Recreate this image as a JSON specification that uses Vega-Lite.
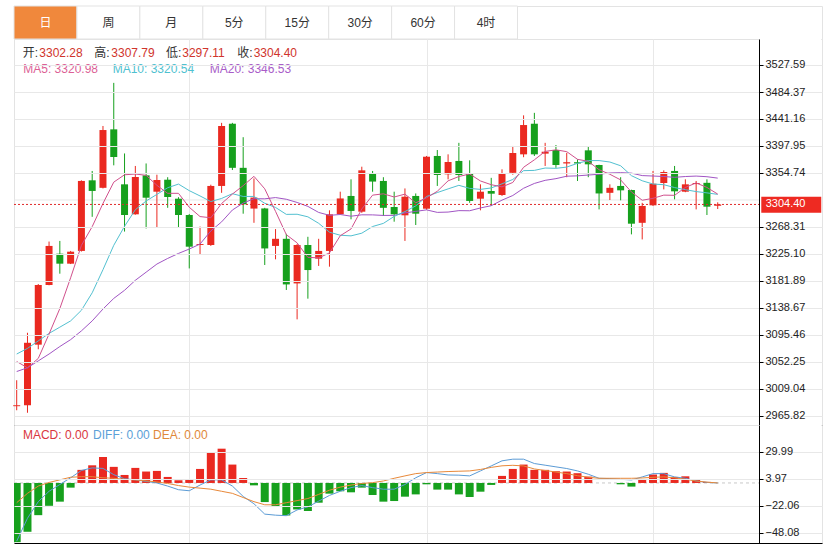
{
 "$schema": "https://vega.github.io/schema/vega-lite/v6.json",
 "padding": {"left": 12, "top": 5, "right": 0, "bottom": 0},
 "autosize": {"type": "pad"},
 "background": "#ffffff",
 "spacing": 0,
 "bounds": "flush",
 "config": {"view": {"stroke": "#e3e3e3", "strokeWidth": 1}, "font": "'Liberation Sans', 'Noto Sans CJK SC'"},
 "datasets": {
  "k": [
   {"i":0,"o":2981.5,"h":3023,"l":2975,"c":2983,"ma5":3053,"ma10":3065,"ma20":3037},
   {"i":1,"o":2983,"h":3099,"l":2971,"c":3083,"ma5":3043,"ma10":3074,"ma20":3043},
   {"i":2,"o":3080,"h":3177,"l":3072.6,"c":3175.5,"ma5":3058,"ma10":3086,"ma20":3054},
   {"i":3,"o":3175.5,"h":3245,"l":3175,"c":3238,"ma5":3097,"ma10":3098,"ma20":3065},
   {"i":4,"o":3225.6,"h":3246,"l":3193.6,"c":3209.6,"ma5":3137.8,"ma10":3108,"ma20":3077},
   {"i":5,"o":3209.6,"h":3230,"l":3209,"c":3228.8,"ma5":3187.0,"ma10":3118,"ma20":3088},
   {"i":6,"o":3230,"h":3343,"l":3229,"c":3342,"ma5":3238.8,"ma10":3135,"ma20":3102},
   {"i":7,"o":3343,"h":3358,"l":3284.6,"c":3326,"ma5":3268.9,"ma10":3163,"ma20":3118},
   {"i":8,"o":3331,"h":3430,"l":3330,"c":3423.5,"ma5":3306.0,"ma10":3200,"ma20":3137},
   {"i":9,"o":3424.6,"h":3499,"l":3367,"c":3380.3,"ma5":3340.1,"ma10":3239.0,"ma20":3154},
   {"i":10,"o":3336.6,"h":3386,"l":3261,"c":3287.5,"ma5":3351.9,"ma10":3269.4,"ma20":3167},
   {"i":11,"o":3288.6,"h":3366,"l":3288,"c":3348.3,"ma5":3353.1,"ma10":3296.0,"ma20":3183},
   {"i":12,"o":3351,"h":3370,"l":3266,"c":3315.2,"ma5":3351.0,"ma10":3309.9,"ma20":3196},
   {"i":13,"o":3324.8,"h":3352,"l":3268,"c":3343.5,"ma5":3335.0,"ma10":3320.5,"ma20":3209},
   {"i":14,"o":3344,"h":3348,"l":3299,"c":3316.3,"ma5":3322.2,"ma10":3331.1,"ma20":3218},
   {"i":15,"o":3313.6,"h":3316,"l":3267,"c":3287.5,"ma5":3322.2,"ma10":3337.0,"ma20":3226},
   {"i":16,"o":3287.5,"h":3289,"l":3202,"c":3236.8,"ma5":3299.9,"ma10":3326.5,"ma20":3233},
   {"i":17,"o":3239.5,"h":3269,"l":3223.5,"c":3241,"ma5":3285.0,"ma10":3318.0,"ma20":3241},
   {"i":18,"o":3239.5,"h":3336,"l":3238,"c":3334,"ma5":3283.1,"ma10":3309.0,"ma20":3262},
   {"i":19,"o":3334,"h":3435,"l":3323,"c":3430,"ma5":3305.9,"ma10":3314.0,"ma20":3276.5},
   {"i":20,"o":3433.6,"h":3435,"l":3359.5,"c":3363,"ma5":3321.0,"ma10":3321.6,"ma20":3295.5},
   {"i":21,"o":3363,"h":3412,"l":3289.6,"c":3304.6,"ma5":3334.5,"ma10":3317.2,"ma20":3306.6},
   {"i":22,"o":3297.8,"h":3346,"l":3275,"c":3315.4,"ma5":3349.4,"ma10":3317.2,"ma20":3313.6},
   {"i":23,"o":3298,"h":3299,"l":3207.5,"c":3234,"ma5":3329.4,"ma10":3306.3,"ma20":3313.4},
   {"i":24,"o":3238,"h":3265,"l":3216.6,"c":3249.4,"ma5":3293.3,"ma10":3299.6,"ma20":3315.4},
   {"i":25,"o":3249.4,"h":3257.4,"l":3167.5,"c":3176.4,"ma5":3256.0,"ma10":3288.5,"ma20":3312.7},
   {"i":26,"o":3178,"h":3241,"l":3120.5,"c":3239.5,"ma5":3242.9,"ma10":3288.7,"ma20":3307.6},
   {"i":27,"o":3239.5,"h":3252.6,"l":3153.6,"c":3199.4,"ma5":3219.7,"ma10":3284.6,"ma20":3301.3},
   {"i":28,"o":3217.6,"h":3249.4,"l":3206,"c":3230,"ma5":3218.9,"ma10":3274.2,"ma20":3291.6},
   {"i":29,"o":3230,"h":3295,"l":3204.8,"c":3288.6,"ma5":3226.8,"ma10":3260.0,"ma20":3287.0},
   {"i":30,"o":3288.6,"h":3324.8,"l":3288,"c":3314,"ma5":3254.3,"ma10":3255.1,"ma20":3288.3},
   {"i":31,"o":3318,"h":3344.6,"l":3280.6,"c":3294,"ma5":3265.2,"ma10":3254.1,"ma20":3285.6},
   {"i":32,"o":3292.8,"h":3364.8,"l":3291,"c":3359,"ma5":3297.1,"ma10":3258.4,"ma20":3287.8},
   {"i":33,"o":3353.6,"h":3358,"l":3324.8,"c":3341,"ma5":3319.3,"ma10":3269.1,"ma20":3287.7},
   {"i":34,"o":3342,"h":3348,"l":3286,"c":3299,"ma5":3321.4,"ma10":3274.1,"ma20":3286.8},
   {"i":35,"o":3300.3,"h":3324.8,"l":3276.8,"c":3288.6,"ma5":3316.3,"ma10":3285.3,"ma20":3286.9},
   {"i":36,"o":3287,"h":3330,"l":3246,"c":3316.8,"ma5":3320.9,"ma10":3293.0,"ma20":3290.9},
   {"i":37,"o":3318,"h":3322,"l":3271.5,"c":3289.6,"ma5":3307.0,"ma10":3302.1,"ma20":3293.3},
   {"i":38,"o":3297.6,"h":3382,"l":3296,"c":3380.8,"ma5":3315.0,"ma10":3317.1,"ma20":3295.7},
   {"i":39,"o":3382,"h":3391.5,"l":3334,"c":3351.5,"ma5":3325.5,"ma10":3323.4,"ma20":3291.7},
   {"i":40,"o":3352.6,"h":3384.6,"l":3344.6,"c":3372.3,"ma5":3342.2,"ma10":3329.3,"ma20":3292.2},
   {"i":41,"o":3374,"h":3403,"l":3342,"c":3351.5,"ma5":3349.1,"ma10":3335.0,"ma20":3294.5},
   {"i":42,"o":3354,"h":3375,"l":3307,"c":3310,"ma5":3353.2,"ma10":3330.1,"ma20":3294.3},
   {"i":43,"o":3313.6,"h":3336.6,"l":3295,"c":3324.8,"ma5":3342.0,"ma10":3328.5,"ma20":3298.8},
   {"i":44,"o":3325.9,"h":3347,"l":3302,"c":3321.6,"ma5":3336.0,"ma10":3330.8,"ma20":3302.4},
   {"i":45,"o":3319.5,"h":3360.6,"l":3318,"c":3354.7,"ma5":3332.5,"ma10":3337.4,"ma20":3311.3},
   {"i":46,"o":3355,"h":3398,"l":3352,"c":3386.7,"ma5":3339.6,"ma10":3344.4,"ma20":3318.7},
   {"i":47,"o":3384.6,"h":3447,"l":3380,"c":3431.5,"ma5":3363.9,"ma10":3358.5,"ma20":3330.3},
   {"i":48,"o":3433.6,"h":3451,"l":3382,"c":3384.6,"ma5":3375.8,"ma10":3358.9,"ma20":3338.0},
   {"i":49,"o":3385.7,"h":3403,"l":3366,"c":3388.8,"ma5":3389.3,"ma10":3362.7,"ma20":3343.0},
   {"i":50,"o":3391.5,"h":3399.5,"l":3363,"c":3367.5,"ma5":3391.8,"ma10":3362.2,"ma20":3345.7},
   {"i":51,"o":3370,"h":3387,"l":3348,"c":3372,"ma5":3388.9,"ma10":3364.2,"ma20":3349.6},
   {"i":52,"o":3372,"h":3376.6,"l":3342,"c":3370,"ma5":3376.6,"ma10":3370.2,"ma20":3350.2},
   {"i":53,"o":3391,"h":3397,"l":3348,"c":3368.6,"ma5":3373.4,"ma10":3374.6,"ma20":3351.5},
   {"i":54,"o":3367.5,"h":3368,"l":3296.5,"c":3322,"ma5":3360.0,"ma10":3374.6,"ma20":3352.7},
   {"i":55,"o":3323,"h":3336.6,"l":3311.5,"c":3331,"ma5":3352.7,"ma10":3372.3,"ma20":3354.8},
   {"i":56,"o":3334,"h":3348,"l":3311,"c":3327,"ma5":3343.7,"ma10":3366.3,"ma20":3355.3},
   {"i":57,"o":3327.5,"h":3328,"l":3256.5,"c":3273.6,"ma5":3324.4,"ma10":3350.5,"ma20":3354.5},
   {"i":58,"o":3275,"h":3307,"l":3248.4,"c":3302,"ma5":3311.1,"ma10":3342.3,"ma20":3350.6},
   {"i":59,"o":3303,"h":3358,"l":3302,"c":3337.6,"ma5":3314.2,"ma10":3337.1,"ma20":3349.9},
   {"i":60,"o":3338.7,"h":3359,"l":3328.5,"c":3356.3,"ma5":3319.3,"ma10":3336.0,"ma20":3349.1},
   {"i":61,"o":3358,"h":3366,"l":3312.6,"c":3325.4,"ma5":3319.0,"ma10":3331.4,"ma20":3347.8},
   {"i":62,"o":3324.8,"h":3344.6,"l":3324,"c":3336.6,"ma5":3331.6,"ma10":3328.0,"ma20":3349.1},
   {"i":63,"o":3337,"h":3342,"l":3296.5,"c":3338.7,"ma5":3338.9,"ma10":3325.0,"ma20":3349.8},
   {"i":64,"o":3339,"h":3344.6,"l":3287.5,"c":3300.8,"ma5":3331.6,"ma10":3322.9,"ma20":3348.8},
   {"i":65,"o":3302.28,"h":3307.79,"l":3297.11,"c":3304.4,"ma5":3320.98,"ma10":3320.54,"ma20":3346.53}
  ],
  "m": [
   {"i":0,"macd":-57,"diff":-56,"dea":-19},
   {"i":1,"macd":-47,"diff":-34,"dea":-10},
   {"i":2,"macd":-31,"diff":-18,"dea":-3},
   {"i":3,"macd":-22,"diff":-8,"dea":0.5},
   {"i":4,"macd":-18,"diff":-1.5,"dea":3},
   {"i":5,"macd":-4.5,"diff":5,"dea":5.5},
   {"i":6,"macd":12.6,"diff":12,"dea":6},
   {"i":7,"macd":17,"diff":14.5,"dea":6},
   {"i":8,"macd":25,"diff":14,"dea":5},
   {"i":9,"macd":15.5,"diff":8,"dea":4.5},
   {"i":10,"macd":7.7,"diff":4,"dea":3.5},
   {"i":11,"macd":14.5,"diff":3,"dea":3},
   {"i":12,"macd":11,"diff":1.5,"dea":2},
   {"i":13,"macd":11.6,"diff":0,"dea":1},
   {"i":14,"macd":5.8,"diff":-3,"dea":-0.5},
   {"i":15,"macd":2.6,"diff":-6.5,"dea":-2.5},
   {"i":16,"macd":2.9,"diff":-7.5,"dea":-4},
   {"i":17,"macd":13.5,"diff":-2,"dea":-5},
   {"i":18,"macd":29.3,"diff":3,"dea":-6},
   {"i":19,"macd":33,"diff":3,"dea":-8},
   {"i":20,"macd":17.7,"diff":-3,"dea":-10},
   {"i":21,"macd":4.8,"diff":-13,"dea":-14},
   {"i":22,"macd":-2.3,"diff":-20,"dea":-18},
   {"i":23,"macd":-18.4,"diff":-30,"dea":-21},
   {"i":24,"macd":-22.6,"diff":-31,"dea":-21},
   {"i":25,"macd":-31.3,"diff":-31.5,"dea":-19},
   {"i":26,"macd":-25.5,"diff":-26,"dea":-17},
   {"i":27,"macd":-27,"diff":-23,"dea":-15},
   {"i":28,"macd":-19,"diff":-17.5,"dea":-11},
   {"i":29,"macd":-10.3,"diff":-12,"dea":-7},
   {"i":30,"macd":-8,"diff":-8,"dea":-4},
   {"i":31,"macd":-9,"diff":-4.5,"dea":-2},
   {"i":32,"macd":-4.5,"diff":-2.5,"dea":-0.5},
   {"i":33,"macd":-11.6,"diff":-4.5,"dea":0.3},
   {"i":34,"macd":-18,"diff":-6,"dea":1.9},
   {"i":35,"macd":-17.4,"diff":-6,"dea":4.5},
   {"i":36,"macd":-13.2,"diff":-1.5,"dea":6.8},
   {"i":37,"macd":-11,"diff":5,"dea":9},
   {"i":38,"macd":-1.3,"diff":10,"dea":10},
   {"i":39,"macd":-6.4,"diff":9,"dea":10.5},
   {"i":40,"macd":-6.4,"diff":7.7,"dea":11},
   {"i":41,"macd":-11,"diff":7.5,"dea":11.3},
   {"i":42,"macd":-13.5,"diff":6.8,"dea":11.6},
   {"i":43,"macd":-8.4,"diff":11.6,"dea":13},
   {"i":44,"macd":-1.9,"diff":16.4,"dea":15},
   {"i":45,"macd":6.8,"diff":21.3,"dea":16.5},
   {"i":46,"macd":13.5,"diff":22.9,"dea":17},
   {"i":47,"macd":17.7,"diff":22.9,"dea":16.4},
   {"i":48,"macd":12.6,"diff":18.7,"dea":13.5},
   {"i":49,"macd":12.6,"diff":17.1,"dea":12},
   {"i":50,"macd":11.3,"diff":15.5,"dea":10.5},
   {"i":51,"macd":11,"diff":13.9,"dea":9},
   {"i":52,"macd":9.4,"diff":11.6,"dea":7},
   {"i":53,"macd":6.1,"diff":8.4,"dea":5.5},
   {"i":54,"macd":0,"diff":4.5,"dea":4.5},
   {"i":55,"macd":0,"diff":4.2,"dea":4.5},
   {"i":56,"macd":-1.3,"diff":3.5,"dea":4.5},
   {"i":57,"macd":-3.5,"diff":2.9,"dea":4.5},
   {"i":58,"macd":2.9,"diff":5.8,"dea":4.8},
   {"i":59,"macd":8.1,"diff":9,"dea":5.5},
   {"i":60,"macd":9.7,"diff":9,"dea":5.8},
   {"i":61,"macd":5.8,"diff":5.8,"dea":5},
   {"i":62,"macd":6.4,"diff":4.5,"dea":3.5},
   {"i":63,"macd":3.5,"diff":1.9,"dea":1.9},
   {"i":64,"macd":1,"diff":0.5,"dea":0.8},
   {"i":65,"macd":0,"diff":0,"dea":0}
  ]
 },
 "vconcat": [
  {
   "width": 808, "height": 33,
   "data": {"values": [{"tab":"日"},{"tab":"周"},{"tab":"月"},{"tab":"5分"},{"tab":"15分"},{"tab":"30分"},{"tab":"60分"},{"tab":"4时"}]},
   "encoding": {"x": {"field": "tab", "type": "nominal", "sort": null, "axis": null, "scale": {"range": [0, 503.5], "paddingInner": 0, "paddingOuter": 0}}},
   "layer": [
    {"mark": {"type": "rect", "stroke": "#e3e3e3", "strokeWidth": 1},
     "encoding": {"fill": {"condition": {"test": "datum.tab === '日'", "value": "#f0883c"}, "value": "#ffffff"}}},
    {"mark": {"type": "text", "fontSize": 12},
     "encoding": {"text": {"field": "tab"}, "color": {"condition": {"test": "datum.tab === '日'", "value": "#ffffff"}, "value": "#333333"}}}
   ]
  },
  {
   "width": 808, "height": 386,
   "data": {"name": "k"},
   "layer": [
    {"data": {"values": [{}]}, "mark": {"type": "rect", "fill": "#ffffff"},
     "encoding": {"x": {"datum": 68.88, "type": "quantitative"}, "x2": {"datum": 74.6}, "y": {"datum": 2951.5, "type": "quantitative"}, "y2": {"datum": 3569}}},
    {"data": {"values": [{}]}, "mark": {"type": "rule", "color": "#e8e8e8", "strokeWidth": 1},
     "encoding": {"x": {"datum": -0.25, "type": "quantitative"}, "x2": {"datum": 68.85}, "y": {"datum": 3311.53, "type": "quantitative"}}},
    {"mark": {"type": "rule", "strokeWidth": 1},
     "encoding": {
      "x": {"field": "i", "type": "quantitative", "scale": {"domain": [-0.25, 74.67], "nice": false, "zero": false, "padding": 0},
            "axis": {"orient": "bottom", "values": [16, 38, 59], "tickCount": 30, "grid": true, "gridColor": "#e8e8e8", "ticks": false, "labels": false, "domain": true, "domainColor": "#000000", "title": null}},
      "y": {"field": "l", "type": "quantitative", "scale": {"domain": [2951.4, 3569.2], "nice": false, "zero": false},
            "axis": {"orient": "right", "offset": -63, "values": [2965.82, 3009.04, 3052.25, 3095.46, 3138.67, 3181.89, 3225.10, 3268.31, 3354.74, 3397.95, 3441.16, 3484.37, 3527.59], "tickCount": 30, "format": ".2f", "labelOverlap": false, "labelFlush": false, "labelBound": false, "grid": true, "gridColor": "#e8e8e8", "domainColor": "#000000", "tickColor": "#000000", "tickSize": 4, "labelPadding": 2, "labelFont": "Liberation Sans", "labelFontSize": 11, "labelColor": "#222222", "title": null, "zindex": 1}},
      "y2": {"field": "h"},
      "color": {"condition": {"test": "datum.c >= datum.o", "value": "#ea2920"}, "value": "#16a01d"}
     }},
    {"mark": {"type": "bar", "size": 7},
     "encoding": {
      "x": {"field": "i", "type": "quantitative"},
      "y": {"field": "o", "type": "quantitative"},
      "y2": {"field": "c"},
      "color": {"condition": {"test": "datum.c >= datum.o", "value": "#ea2920"}, "value": "#16a01d"}
     }},
    {"mark": {"type": "line", "color": "#a155c4", "strokeWidth": 1},
     "encoding": {"x": {"field": "i", "type": "quantitative"}, "y": {"field": "ma20", "type": "quantitative"}}},
    {"mark": {"type": "line", "color": "#52c0d0", "strokeWidth": 1},
     "encoding": {"x": {"field": "i", "type": "quantitative"}, "y": {"field": "ma10", "type": "quantitative"}}},
    {"mark": {"type": "line", "color": "#d0508c", "strokeWidth": 1},
     "encoding": {"x": {"field": "i", "type": "quantitative"}, "y": {"field": "ma5", "type": "quantitative"}}},
    {"data": {"values": [{}]}, "mark": {"type": "rule", "color": "#e02a2a", "strokeWidth": 1, "strokeDash": [2, 2]},
     "encoding": {"x": {"datum": -0.25, "type": "quantitative"}, "x2": {"datum": 68.85}, "y": {"datum": 3304.4, "type": "quantitative"}}},
    {"data": {"values": [{}]}, "mark": {"type": "rect", "fill": "#ee2a22"},
     "encoding": {"x": {"datum": 69.04, "type": "quantitative"}, "x2": {"datum": 74.6}, "y": {"datum": 3291.2, "type": "quantitative"}, "y2": {"datum": 3316.8}}},
    {"data": {"values": [{}]}, "mark": {"type": "text", "text": "3304.40", "color": "#ffffff", "align": "left", "baseline": "middle", "font": "Liberation Sans", "fontSize": 11},
     "encoding": {"x": {"datum": 69.45, "type": "quantitative"}, "y": {"datum": 3304.4, "type": "quantitative"}}},
    {"data": {"values": [{}]}, "mark": {"type": "text", "text": "开:", "color": "#333333", "align": "left", "baseline": "middle", "fontSize": 12},
     "encoding": {"x": {"datum": 0.56, "type": "quantitative"}, "y": {"datum": 3546.8, "type": "quantitative"}}},
    {"data": {"values": [{}]}, "mark": {"type": "text", "text": "3302.28", "color": "#d0342c", "align": "left", "baseline": "middle", "fontSize": 12},
     "encoding": {"x": {"datum": 2.1, "type": "quantitative"}, "y": {"datum": 3546.8, "type": "quantitative"}}},
    {"data": {"values": [{}]}, "mark": {"type": "text", "text": "高:", "color": "#333333", "align": "left", "baseline": "middle", "fontSize": 12},
     "encoding": {"x": {"datum": 7.2, "type": "quantitative"}, "y": {"datum": 3546.8, "type": "quantitative"}}},
    {"data": {"values": [{}]}, "mark": {"type": "text", "text": "3307.79", "color": "#d0342c", "align": "left", "baseline": "middle", "fontSize": 12},
     "encoding": {"x": {"datum": 8.77, "type": "quantitative"}, "y": {"datum": 3546.8, "type": "quantitative"}}},
    {"data": {"values": [{}]}, "mark": {"type": "text", "text": "低:", "color": "#333333", "align": "left", "baseline": "middle", "fontSize": 12},
     "encoding": {"x": {"datum": 13.84, "type": "quantitative"}, "y": {"datum": 3546.8, "type": "quantitative"}}},
    {"data": {"values": [{}]}, "mark": {"type": "text", "text": "3297.11", "color": "#d0342c", "align": "left", "baseline": "middle", "fontSize": 12},
     "encoding": {"x": {"datum": 15.35, "type": "quantitative"}, "y": {"datum": 3546.8, "type": "quantitative"}}},
    {"data": {"values": [{}]}, "mark": {"type": "text", "text": "收:", "color": "#333333", "align": "left", "baseline": "middle", "fontSize": 12},
     "encoding": {"x": {"datum": 20.45, "type": "quantitative"}, "y": {"datum": 3546.8, "type": "quantitative"}}},
    {"data": {"values": [{}]}, "mark": {"type": "text", "text": "3304.40", "color": "#d0342c", "align": "left", "baseline": "middle", "fontSize": 12},
     "encoding": {"x": {"datum": 21.97, "type": "quantitative"}, "y": {"datum": 3546.8, "type": "quantitative"}}},
    {"data": {"values": [{}]}, "mark": {"type": "text", "text": "MA5: 3320.98", "color": "#dc5f96", "align": "left", "baseline": "middle", "fontSize": 12},
     "encoding": {"x": {"datum": 0.61, "type": "quantitative"}, "y": {"datum": 3520.4, "type": "quantitative"}}},
    {"data": {"values": [{}]}, "mark": {"type": "text", "text": "MA10: 3320.54", "color": "#4fc1d0", "align": "left", "baseline": "middle", "fontSize": 12},
     "encoding": {"x": {"datum": 8.9, "type": "quantitative"}, "y": {"datum": 3520.4, "type": "quantitative"}}},
    {"data": {"values": [{}]}, "mark": {"type": "text", "text": "MA20: 3346.53", "color": "#a85cc8", "align": "left", "baseline": "middle", "fontSize": 12},
     "encoding": {"x": {"datum": 17.9, "type": "quantitative"}, "y": {"datum": 3520.4, "type": "quantitative"}}}
   ]
  },
  {
   "width": 808, "height": 118,
   "data": {"name": "m"},
   "layer": [
    {"data": {"values": [{}]}, "mark": {"type": "rect", "fill": "#ffffff"},
     "encoding": {"x": {"datum": 68.88, "type": "quantitative"}, "x2": {"datum": 74.6}, "y": {"datum": -57.7, "type": "quantitative"}, "y2": {"datum": 55.7}}},
    {"data": {"values": [{}]}, "mark": {"type": "rule", "color": "#c8c8c8", "strokeWidth": 1, "strokeDash": [3, 3]},
     "encoding": {"x": {"datum": -0.25, "type": "quantitative"}, "x2": {"datum": 68.85}, "y": {"datum": 0, "type": "quantitative"}}},
    {"mark": {"type": "bar", "size": 8, "clip": true},
     "encoding": {
      "x": {"field": "i", "type": "quantitative", "scale": {"domain": [-0.25, 74.67], "nice": false, "zero": false, "padding": 0},
            "axis": {"orient": "bottom", "values": [16, 38, 59], "tickCount": 30, "grid": true, "gridColor": "#e8e8e8", "ticks": false, "labels": false, "domain": true, "domainColor": "#000000", "title": null}},
      "y": {"field": "macd", "type": "quantitative", "scale": {"domain": [-57.8, 55.8], "nice": false, "zero": false},
            "axis": {"orient": "right", "offset": -63, "values": [29.99, 3.97, -22.06, -48.08], "tickCount": 30, "format": ".2f", "labelOverlap": false, "labelFlush": false, "labelBound": false, "grid": true, "gridColor": "#e8e8e8", "domainColor": "#000000", "tickColor": "#000000", "tickSize": 4, "labelPadding": 2, "labelFont": "Liberation Sans", "labelFontSize": 11, "labelColor": "#222222", "title": null, "zindex": 1}},
      "y2": {"datum": 0},
      "color": {"condition": {"test": "datum.macd >= 0", "value": "#ea2920"}, "value": "#16a01d"}
     }},
    {"mark": {"type": "line", "color": "#5b9bd5", "strokeWidth": 1},
     "encoding": {"x": {"field": "i", "type": "quantitative"}, "y": {"field": "diff", "type": "quantitative"}}},
    {"mark": {"type": "line", "color": "#e8893a", "strokeWidth": 1},
     "encoding": {"x": {"field": "i", "type": "quantitative"}, "y": {"field": "dea", "type": "quantitative"}}},
    {"data": {"values": [{}]}, "mark": {"type": "text", "text": "MACD: 0.00", "color": "#d9363e", "align": "left", "baseline": "middle", "fontSize": 12},
     "encoding": {"x": {"datum": 0.58, "type": "quantitative"}, "y": {"datum": 46.4, "type": "quantitative"}}},
    {"data": {"values": [{}]}, "mark": {"type": "text", "text": "DIFF: 0.00", "color": "#5b9fd8", "align": "left", "baseline": "middle", "fontSize": 12},
     "encoding": {"x": {"datum": 7.08, "type": "quantitative"}, "y": {"datum": 46.4, "type": "quantitative"}}},
    {"data": {"values": [{}]}, "mark": {"type": "text", "text": "DEA: 0.00", "color": "#e0883a", "align": "left", "baseline": "middle", "fontSize": 12},
     "encoding": {"x": {"datum": 12.64, "type": "quantitative"}, "y": {"datum": 46.4, "type": "quantitative"}}}
   ]
  }
 ]
}
